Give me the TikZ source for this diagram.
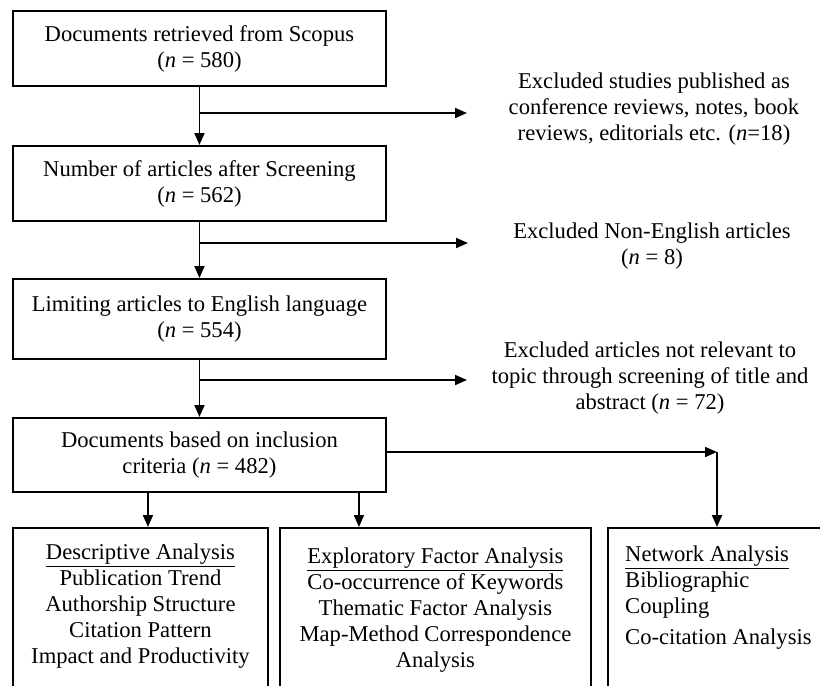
\documentclass[tikz,border=0pt]{standalone}
\usepackage{fontspec}
\setmainfont{Liberation Serif}
\usetikzlibrary{positioning, arrows.meta}
\tikzset{
  stagebox/.style={draw, line width=1.9pt, anchor=north west, minimum width=373pt,
    align=center, inner sep=0pt},
  framebox/.style={draw, line width=1.9pt, anchor=north west, minimum height=190pt, inner sep=0pt},
  exclnote/.style={align=center, inner sep=0pt},
  flowarrow/.style={line width=1.9pt, -{Triangle[length=12pt, width=10pt]}},
}

\begin{document}
\begin{tikzpicture}[x=1pt, y=-1pt, font=\fontsize{22.6}{26}\selectfont]
  \useasboundingbox (0,0) rectangle (820,686);
  \clip (0,0) rectangle (820,686);

  %% main stages
  \node[stagebox, minimum height=75pt] (retrieved) at (12,10)
    {Documents retrieved from Scopus\\(\textit{n} = 580)};
  \node[stagebox, minimum height=75pt] (screened) at (12,145)
    {Number of articles after Screening\\(\textit{n} = 562)};
  \node[stagebox, minimum height=80pt] (english) at (12,278)
    {Limiting articles to English language\\(\textit{n} = 554)};
  \node[stagebox, minimum height=74pt] (included) at (12,417)
    {Documents based on inclusion\\criteria (\textit{n} = 482)};

  %% exclusions
  \node[exclnote] (excl1) at (654,109)
    {Excluded studies published as\\conference reviews, notes, book\\reviews, editorials etc. (\textit{n}=18)};
  \node[exclnote] (excl2) at (652,246)
    {Excluded Non-English articles\\(\textit{n} = 8)};
  \node[exclnote] (excl3) at (650,378)
    {Excluded articles not relevant to\\topic through screening of title and\\abstract (\textit{n} = 72)};

  %% analysis frames
  \node[framebox, minimum width=255pt] (descbox) at (12,527) {};
  \node[framebox, minimum width=311pt] (expbox) at (279,527) {};
  \node[framebox, minimum width=240pt] (netbox) at (607,527) {};

  \node[align=center, anchor=north, inner sep=0pt] (desctext) at ([yshift=-17pt]descbox.north)
    {\underline{Descriptive Analysis}\\Publication Trend\\Authorship Structure\\Citation Pattern\\Impact and Productivity};
  \node[align=center, anchor=north, inner sep=0pt] (exptext) at ([yshift=-21pt]expbox.north)
    {\underline{Exploratory Factor Analysis}\\Co-occurrence of Keywords\\Thematic Factor Analysis\\Map-Method Correspondence\\Analysis};
  \node[align=left, anchor=north west, inner sep=0pt] (nettext) at (625,546)
    {\underline{Network Analysis}\\Bibliographic\\Coupling\\[5pt]Co-citation Analysis};

  %% flow
  \draw[flowarrow] (retrieved) -- (screened);
  \draw[flowarrow] (screened) -- (english);
  \draw[flowarrow] (english) -- (included);

  \coordinate (split1) at (retrieved.south |- 0,113);
  \coordinate (split2) at (screened.south |- 0,243);
  \coordinate (split3) at (english.south |- 0,380);
  \coordinate (tip1) at (467,113);
  \coordinate (tip2) at (468,243);
  \coordinate (tip3) at (467,380);
  \draw[flowarrow] (split1) -- (tip1);
  \draw[flowarrow] (split2) -- (tip2);
  \draw[flowarrow] (split3) -- (tip3);

  \draw[flowarrow] ([xshift=-51.5pt]included.south) -- ([xshift=-51.5pt]included.south |- descbox.north);
  \draw[flowarrow] ([xshift=159.5pt]included.south) -- ([xshift=159.5pt]included.south |- expbox.north);
  \coordinate (netturn) at (717,452);
  \draw[flowarrow] (included.east |- netturn) -- (netturn);
  \draw[flowarrow] (netturn) -- (netturn |- netbox.north);
\end{tikzpicture}
\end{document}
